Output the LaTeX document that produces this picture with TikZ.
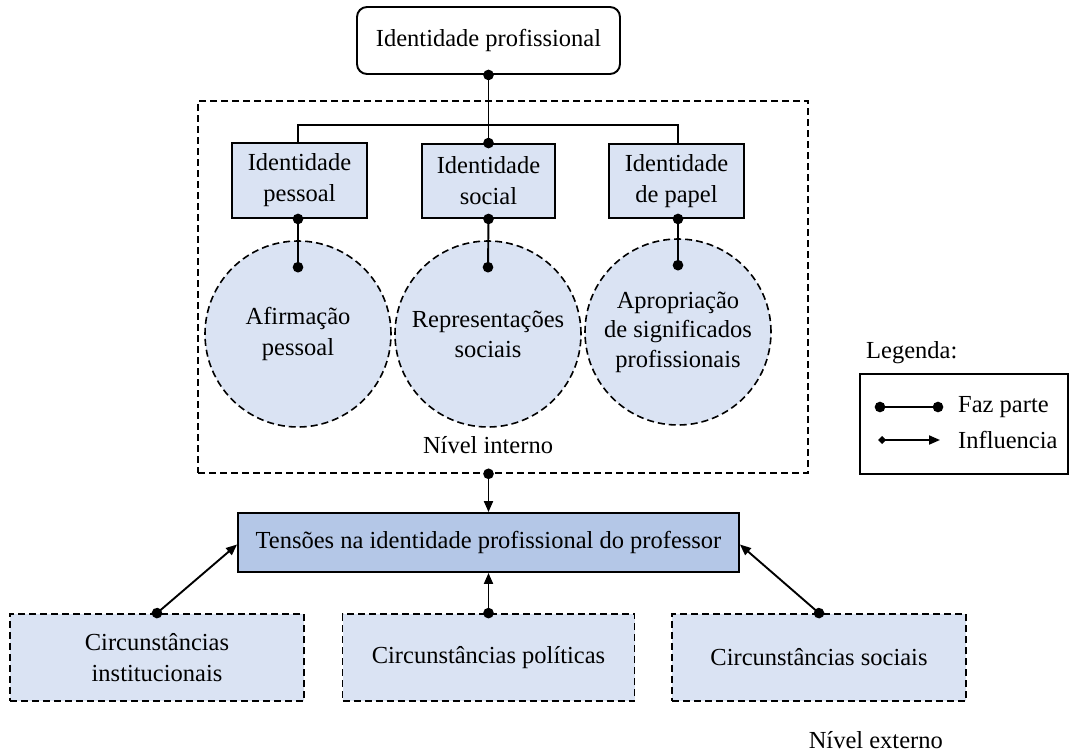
\documentclass[tikz,border=0pt]{standalone}
\usepackage{fontspec}
\setmainfont{Liberation Serif}
\usetikzlibrary{arrows.meta}
\definecolor{lightb}{HTML}{DAE3F3}
\definecolor{midb}{HTML}{B4C7E7}
\tikzset{
  every node/.style={font=\fontsize{24.5}{31}\selectfont, inner sep=0pt, align=center},
  mydash/.style={dash pattern=on 7pt off 4pt},
  solidbox/.style={draw, line width=1.9pt, fill=lightb},
  dashbox/.style={draw, line width=1.8pt, fill=lightb, mydash},
  circ/.style={draw, line width=1.6pt, fill=lightb, mydash, circle, minimum size=186pt},
  partof/.style={line width=1.9pt, {Circle[length=10.5pt]}-{Circle[length=10.5pt]}, shorten <=-5.25pt, shorten >=-5.25pt},
  influ/.style={line width=1.9pt, {Circle[length=10.5pt]}-{Triangle[length=11pt,width=9pt]}, shorten <=-5.25pt},
  plainline/.style={line width=1.9pt},
}
\begin{document}
\begin{tikzpicture}[x=1pt,y=-1pt]
\useasboundingbox (0,0) rectangle (1071,753);
% outer dashed frame (Nivel interno)
\node[draw, line width=1.6pt, mydash, minimum width=610pt, minimum height=372pt] (inner) at (503,287) {};
% top
\node[draw, line width=1.9pt, rounded corners=10pt, minimum width=263pt, minimum height=67pt] (prof) at (488.5,40.5) {Identidade profissional};
\node[solidbox, minimum width=135pt, minimum height=75pt] (pes) at (299.5,180.5) {Identidade\\pessoal};
\node[solidbox, minimum width=133pt, minimum height=74pt] (soc) at (488.5,181) {Identidade\\social};
\node[solidbox, minimum width=135pt, minimum height=74pt] (pap) at (676.5,181) {Identidade\\de papel};
% circles
\node[circ] (c1) at (298,334) {Afirmação\\pessoal};
\node[circ, font=\fontsize{24.5}{30}\selectfont] (c2) at (488,334) {Representações\\sociais};
\node[circ, font=\fontsize{24.5}{29.5}\selectfont] (c3) at (678,332) {Apropriação\\de significados\\profissionais};
\coordinate (d1) at ([yshift=-27pt]c1.north);
\coordinate (d2) at ([yshift=-27pt]c2.north);
\coordinate (d3) at ([yshift=-27pt]c3.north);
\node (nint) at (488,445) {Nível interno};
% connectors top
\coordinate (branch) at (488,125);
\draw[plainline] ([xshift=-1.5pt]pes.north) |- (branch) -| ([xshift=1.5pt]pap.north);
\draw[partof] (prof.south) -- (soc.north);
\draw[partof] ([xshift=-1.5pt]pes.south) -- (d1);
\draw[partof] (soc.south) -- (d2);
\draw[partof] ([xshift=1.5pt]pap.south) -- (d3);
% tension
\node[draw, line width=1.9pt, fill=midb, minimum width=501pt, minimum height=59pt] (tens) at (488.5,542.5) {Tensões na identidade profissional do professor};
\draw[influ] (inner.south -| tens.north) -- (tens.north);
% bottom boxes
\node[dashbox, minimum width=294pt, minimum height=87pt] (b1) at (157,657.5) {Circunstâncias\\institucionais};
\node[dashbox, minimum width=292pt, minimum height=87pt] (b2) at (488.5,657.5) {Circunstâncias políticas};
\node[dashbox, minimum width=294pt, minimum height=87pt] (b3) at (819,657.5) {Circunstâncias sociais};
\draw[influ] (b1.north) -- ([yshift=-2pt]tens.west);
\draw[influ] (b2.north) -- (tens.south);
\draw[influ] (b3.north) -- ([yshift=-2pt]tens.east);
\node[anchor=east] (next) at (943,740) {Nível externo};
% legend
\node[anchor=west] (legt) at (866,353) {Legenda:};
\node[draw, line width=1.9pt, minimum width=208pt, minimum height=100pt] (leg) at (964,424) {};
\coordinate (la1) at (880,407);
\coordinate (la2) at (938,407);
\coordinate (lb1) at (882,440);
\coordinate (lb2) at (940,440);
\draw[partof] (la1) -- (la2);
\draw[line width=1.9pt, {Turned Square[length=8pt,width=8pt]}-{Triangle[length=11pt,width=9pt]}, shorten <=-4pt] (lb1) -- (lb2);
\node[anchor=west] (lfp) at (958,407) {Faz parte};
\node[anchor=west] (lin) at (958,440) {Influencia};
\end{tikzpicture}
\end{document}
